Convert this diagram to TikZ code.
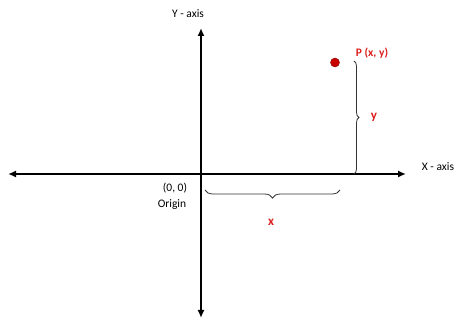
\documentclass[tikz,border=0pt]{standalone}
\usepackage{fontspec}
\setmainfont{Carlito}
\usetikzlibrary{arrows.meta,decorations.pathreplacing}
\definecolor{pred}{RGB}{220,30,30}
\definecolor{dotred}{RGB}{200,0,0}
\begin{document}
\begin{tikzpicture}[x=1pt,y=-1pt,
  axis/.style={line width=1.8pt,-{Latex[length=8pt,width=7pt]}},
  brc/.style={draw=black!80,line width=0.8pt,decorate,decoration={brace,amplitude=#1}},
  lbl/.style={font=\fontsize{11.5}{13}\selectfont,inner sep=0pt},
  rlbl/.style={lbl,text=pred}]
\useasboundingbox (0,0) rectangle (459,321);
\coordinate (O) at (201,174);
\coordinate (xl) at (8,174);
\coordinate (xr) at (406,174);
\coordinate (yt) at (201,28);
\coordinate (yb) at (201,318);
\draw[axis] (O) -- (xr);
\draw[axis] (O) -- (xl);
\draw[axis] (O) -- (yt);
\draw[axis] (O) -- (yb);
\node[circle,fill=dotred,draw=dotred!70!black,minimum size=9pt,inner sep=0pt] (P) at (335,62.5) {};
\coordinate (bt) at (354,61);
\coordinate (bb) at (354,174);
\draw[brc=5pt] (bt) -- (bb);
\coordinate (hr) at (340,190);
\coordinate (hl) at (205,190);
\draw[brc=8pt] (hr) -- (hl);
\node[lbl] (yax) at (188,14) {Y - axis};
\node[lbl] (xax) at (438,167) {X - axis};
\node[lbl] (oo) at (175,188) {(0, 0)};
\node[lbl] (org) at (172,205) {Origin};
\node[rlbl] (pl) at (372,53) {\textbf{P (x, y)}};
\node[rlbl,font=\fontsize{13}{14}\selectfont] (ylb) at (374,117) {\textbf{y}};
\node[rlbl,font=\fontsize{13}{14}\selectfont] (xlb) at (271,222) {\textbf{x}};
\end{tikzpicture}
\end{document}
